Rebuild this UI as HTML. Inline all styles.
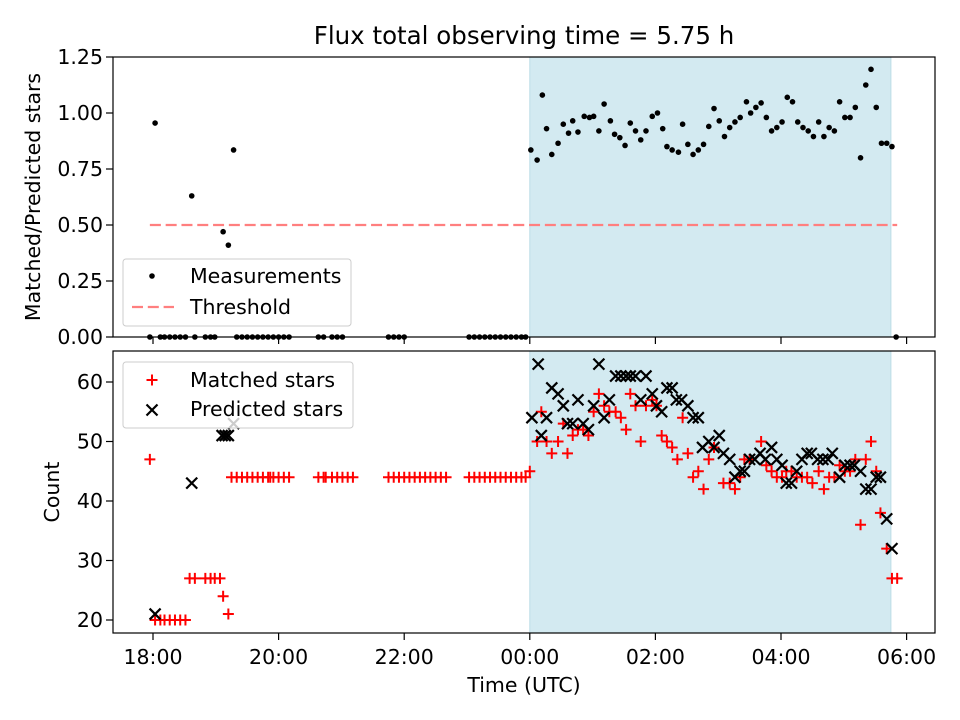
<!DOCTYPE html>
<html><head><meta charset="utf-8"><style>
body{margin:0;background:#fff}
svg{display:block;font-family:"DejaVu Sans","Liberation Sans",sans-serif}
</style></head><body>
<svg id="fig" width="960" height="720" viewBox="0 0 960 720"></svg>
<script>
// ---- data (time in minutes since 18:00 UTC) ----
const ratioTimes = [2,37,67,72,77,361,367,372,376,381,387,392,397,401,406,412,417,421,426,431,437,441,446,451,456,461,466,471,477,482,487,491,496,502,506,511,516,521,526,531,536,541,546,551,556,561,567,571,576,581,586,591,596,601,606,611,616,621,626,631,636,641,646,651,656,661,666,671,676,681,686,691,696,701,706];
const ratioValues = [0.955,0.63,0.47,0.41,0.835,0.835,0.79,1.08,0.93,0.815,0.865,0.95,0.91,0.965,0.915,0.985,0.98,0.985,0.92,1.04,0.965,0.905,0.89,0.855,0.955,0.92,0.88,0.92,0.985,1.0,0.93,0.85,0.835,0.825,0.95,0.86,0.815,0.835,0.86,0.94,1.02,0.965,0.895,0.935,0.96,0.98,1.05,1.0,1.025,1.045,0.98,0.92,0.935,0.96,1.07,1.05,0.96,0.935,0.92,0.895,0.96,0.895,0.935,0.92,1.05,0.98,0.98,1.025,0.80,1.125,1.195,1.025,0.865,0.865,0.85];
const zeroTimes = [-3,7,11,16,21,26,31,40,50,55,59,80,85,90,95,100,105,110,115,120,125,130,158,163,171,176,181,225,230,235,240,302,307,312,317,322,327,332,337,342,347,352,356,710];
const threshold = 0.5;
const thresholdRange = [-3,711];
const obsSpan = [360,705];
const matchedTimes = [-3,2,7,11,16,21,26,31,35,40,50,55,59,64,67,72,75,80,85,90,95,100,105,110,112,115,120,125,130,158,163,165,171,176,181,186,191,225,230,235,240,245,250,255,260,265,270,275,280,302,307,312,317,322,327,332,337,342,347,352,356,360,367,371,376,381,387,392,396,401,406,411,416,421,426,431,436,442,447,452,456,461,466,471,477,481,486,491,496,501,506,511,516,521,526,531,536,545,551,556,561,565,570,581,586,591,596,601,605,610,615,620,625,630,636,641,646,651,656,661,666,671,676,681,686,691,695,701,706,711];
const matchedValues = [47,20,20,20,20,20,20,20,27,27,27,27,27,27,24,21,44,44,44,44,44,44,44,44,44,44,44,44,44,44,44,44,44,44,44,44,44,44,44,44,44,44,44,44,44,44,44,44,44,44,44,44,44,44,44,44,44,44,44,44,44,45,50,55,50,48,50,53,48,51,52,52,51,55,58,56,55,55,54,52,58,56,50,56,57,56,51,50,49,47,54,48,44,45,42,47,49,43,43,42,44,47,47,50,46,45,44,44,45,45,44,44,44,43,45,42,44,44,46,45,45,47,36,47,50,45,38,32,27,27];
const predictedTimes = [2,37,66,69,72,77,362,368,371,376,381,387,392,396,401,406,411,416,421,426,431,436,442,447,452,456,461,466,471,477,481,486,491,496,500,505,511,516,521,525,531,536,541,545,551,556,561,565,570,575,580,585,591,596,601,605,610,615,620,625,629,635,640,645,649,656,661,666,670,676,681,686,691,695,701,706];
const predictedValues = [21,43,51,51,51,53,54,63,51,54,59,58,56,53,53,57,53,52,56,63,54,57,61,61,61,61,61,57,61,58,56,55,59,59,57,57,56,54,54,49,50,49,51,48,47,44,45,45,47,47,48,47,49,47,46,43,43,45,47,48,48,47,47,47,48,44,46,46,46,45,42,42,44,44,37,32];
const xTickMinutes = [0,120,240,360,480,600,720];
const xTickLabels = ["18:00","20:00","22:00","00:00","02:00","04:00","06:00"];
const topTicks = [0,0.25,0.5,0.75,1.0,1.25];
const botTicks = [20,30,40,50,60];

// ---- layout ----
const NS="http://www.w3.org/2000/svg";
const svg=document.getElementById('fig');
const L=113,R=935;
const FS=20.5;
const topAx={t:57,b:337}, botAx={t:351,b:633};
const x=m=>153+m*(125.6/120);
const yTop=v=>337-v*224;
const yBot=v=>620-(v-20)*5.95;
function mk(tag,attrs,parent){const e=document.createElementNS(NS,tag);for(const k in attrs)e.setAttribute(k,attrs[k]);(parent||svg).appendChild(e);return e;}
function txt(s,attrs,parent){const e=mk('text',attrs,parent);e.textContent=s;return e;}

const title=txt("Flux total observing time = 5.75 h",{x:524,y:44,'font-size':24.5,'text-anchor':'middle',fill:'#000'});



function axesFrame(ax,name){
  const g=mk('g',{});
  
  
  const span=mk('rect',{x:x(obsSpan[0]),y:ax.t,width:x(obsSpan[1])-x(obsSpan[0]),height:ax.b-ax.t,fill:'#d3eaf1',stroke:'#bcdde6','stroke-width':1},g);
  
  
  return g;
}
function axesBorder(ax,g){
  mk('rect',{x:L,y:ax.t,width:R-L,height:ax.b-ax.t,fill:'none',stroke:'#000','stroke-width':1.2},g);
  xTickMinutes.forEach(m=>mk('line',{x1:x(m),x2:x(m),y1:ax.b,y2:ax.b+7,stroke:'#000','stroke-width':1.2},g));
}

// ---- top panel ----
const gTop=axesFrame(topAx,'ratio-panel');
const thr=mk('line',{x1:x(thresholdRange[0]),x2:x(thresholdRange[1]),y1:yTop(threshold),y2:yTop(threshold),stroke:'#ff7f7f','stroke-width':2.2,'stroke-dasharray':'11,4.8'},gTop);


ratioTimes.forEach((t,i)=>{
  const c=mk('circle',{cx:x(t),cy:yTop(ratioValues[i]),r:2.8,fill:'#000'},gTop);
  
  
});
zeroTimes.forEach(t=>{
  const c=mk('circle',{cx:x(t),cy:yTop(0),r:2.8,fill:'#000'},gTop);
  
  
});
axesBorder(topAx,gTop);
topTicks.forEach(v=>{
  mk('line',{x1:L-7,x2:L,y1:yTop(v),y2:yTop(v),stroke:'#000','stroke-width':1.2},gTop);
  const t=txt(v.toFixed(2),{x:L-10,y:yTop(v)+7,'font-size':FS,'text-anchor':'end'},gTop);
  
  
});
const yl1=txt("Matched/Predicted stars",{x:0,y:0,'font-size':FS,'text-anchor':'middle',transform:`translate(40,${(topAx.t+topAx.b)/2}) rotate(-90)`});


const lg1=mk('g',{});


mk('rect',{x:123,y:259,width:228,height:67,rx:3,fill:'#fff','fill-opacity':0.8,stroke:'#ccc'},lg1);
mk('circle',{cx:152,cy:276,r:2.8,fill:'#000'},lg1);
const le1=txt("Measurements",{x:190,y:283,'font-size':FS},lg1);


mk('line',{x1:132,x2:174,y1:307,y2:307,stroke:'#ff7f7f','stroke-width':2.2,'stroke-dasharray':'11,4.8'},lg1);
const le2=txt("Threshold",{x:190,y:314,'font-size':FS},lg1);



// ---- bottom panel ----
const gBot=axesFrame(botAx,'count-panel');
function plus(cx,cy,g){return mk('path',{d:`M${cx-5.5},${cy}H${cx+5.5}M${cx},${cy-5.5}V${cy+5.5}`,stroke:'#f00','stroke-width':2,fill:'none'},g);}
function cross(cx,cy,g){return mk('path',{d:`M${cx-5.5},${cy-5.5}L${cx+5.5},${cy+5.5}M${cx-5.5},${cy+5.5}L${cx+5.5},${cy-5.5}`,stroke:'#000','stroke-width':2.2,fill:'none'},g);}
matchedTimes.forEach((t,i)=>{
  const p=plus(x(t),yBot(matchedValues[i]),gBot);
  
  
});
predictedTimes.forEach((t,i)=>{
  const p=cross(x(t),yBot(predictedValues[i]),gBot);
  
  
});
axesBorder(botAx,gBot);
botTicks.forEach(v=>{
  mk('line',{x1:L-7,x2:L,y1:yBot(v),y2:yBot(v),stroke:'#000','stroke-width':1.2},gBot);
  const t=txt(String(v),{x:L-10,y:yBot(v)+7,'font-size':FS,'text-anchor':'end'},gBot);
  
  
});
xTickMinutes.forEach((m,i)=>{
  const t=txt(xTickLabels[i],{x:x(m),y:botAx.b+31,'font-size':FS,'text-anchor':'middle'},gBot);
  
  
});
const yl2=txt("Count",{x:0,y:0,'font-size':FS,'text-anchor':'middle',transform:`translate(59,${(botAx.t+botAx.b)/2}) rotate(-90)`});


const xl=txt("Time (UTC)",{x:524,y:692,'font-size':FS,'text-anchor':'middle'});


const lg2=mk('g',{});


mk('rect',{x:123,y:362,width:230,height:66,rx:3,fill:'#fff','fill-opacity':0.8,stroke:'#ccc'},lg2);
plus(152,380,lg2);
const le3=txt("Matched stars",{x:190,y:387,'font-size':FS},lg2);


cross(152,410,lg2);
const le4=txt("Predicted stars",{x:190,y:416,'font-size':FS},lg2);


</script>
</body></html>
